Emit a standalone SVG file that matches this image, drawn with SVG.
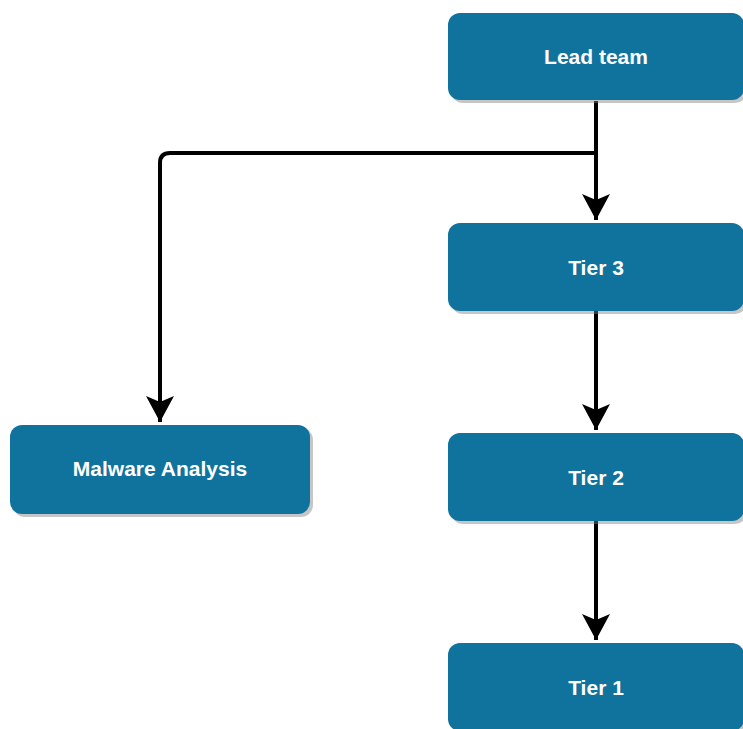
<svg xmlns="http://www.w3.org/2000/svg" width="743" height="729" viewBox="0 0 743 729">
<style>
.box{fill:#10739E;}
.shadow{fill:#808080;opacity:0.45;}
.lbl{font-family:"Liberation Sans",Arial,sans-serif;font-weight:bold;font-size:21px;fill:#ffffff;text-anchor:middle;dominant-baseline:central;}
.edge{fill:none;stroke:#000000;stroke-width:4;}
</style>
<defs>
<marker id="arr" markerUnits="userSpaceOnUse" markerWidth="30" markerHeight="30" viewBox="0 0 30 30" refX="26" refY="15" orient="auto">
<path d="M0,1 L26,15 L0,29 L6,15 Z" fill="#000000"/>
</marker>
</defs>
<rect width="743" height="729" fill="#ffffff"/>
<g id="connectors">
<path class="edge" d="M596,101 L596,220" marker-end="url(#arr)"/>
<path class="edge" d="M596,153 L170,153 Q160,153 160,163 L160,422" marker-end="url(#arr)"/>
<path class="edge" d="M596,311 L596,430" marker-end="url(#arr)"/>
<path class="edge" d="M596,521 L596,640" marker-end="url(#arr)"/>
</g>
<g id="lead">
<rect class="shadow" x="451" y="16" width="296" height="87" rx="12"/>
<rect class="box" x="448" y="13" width="296" height="87" rx="12"/>
<text class="lbl" x="596" y="56.5">Lead team</text>
</g>
<g id="tier3">
<rect class="shadow" x="451" y="226" width="296" height="88" rx="12"/>
<rect class="box" x="448" y="223" width="296" height="88" rx="12"/>
<text class="lbl" x="596" y="267">Tier 3</text>
</g>
<g id="tier2">
<rect class="shadow" x="451" y="436" width="296" height="88" rx="12"/>
<rect class="box" x="448" y="433" width="296" height="88" rx="12"/>
<text class="lbl" x="596" y="477">Tier 2</text>
</g>
<g id="tier1">
<rect class="shadow" x="451" y="646" width="296" height="88" rx="12"/>
<rect class="box" x="448" y="643" width="296" height="88" rx="12"/>
<text class="lbl" x="596" y="687">Tier 1</text>
</g>
<g id="malware">
<rect class="shadow" x="13" y="428" width="300" height="89" rx="12"/>
<rect class="box" x="10" y="425" width="300" height="89" rx="12"/>
<text class="lbl" x="160" y="468">Malware Analysis</text>
</g>
</svg>
